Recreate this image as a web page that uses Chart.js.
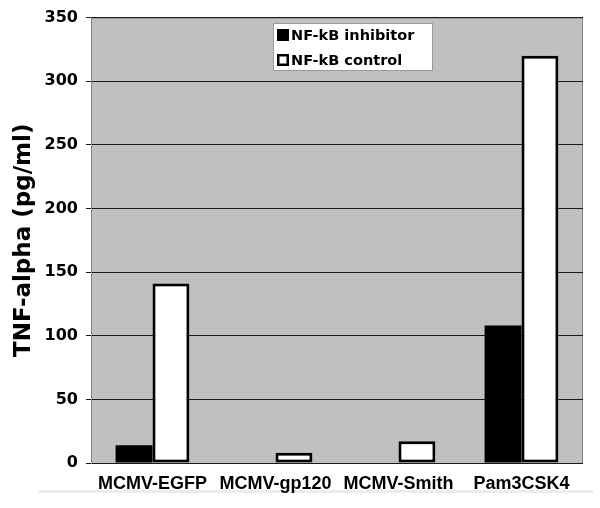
<!DOCTYPE html>
<html>
<head>
<meta charset="utf-8">
<script src="https://cdn.jsdelivr.net/npm/chart.js@4"></script>
<style>
  html, body { margin: 0; padding: 0; background: #ffffff; }
  #wrap { width: 600px; height: 508px; position: relative; }
</style>
</head>
<body>
<div id="wrap"><canvas id="c" width="600" height="508"></canvas></div>
<script>
const categories = ["MCMV-EGFP", "MCMV-gp120", "MCMV-Smith", "Pam3CSK4"];
const inhibitorValues = [14, 0, 0, 108];
const controlValues = [141, 8, 17, 320];
const seriesLabels = ["NF-kB inhibitor", "NF-kB control"];
const yTitle = "TNF-alpha (pg/ml)";
const yMin = 0, yMax = 350, yStep = 50;

const PLOT_BG = "#c0c0c0";

const decorPlugin = {
  id: "decor",
  beforeDraw(chart) {
    const { ctx, chartArea: a } = chart;
    ctx.save();
    ctx.fillStyle = PLOT_BG;
    ctx.fillRect(a.left, a.top, a.right - a.left, a.bottom - a.top);
    ctx.strokeStyle = "#808080";
    ctx.lineWidth = 1;
    ctx.strokeRect(a.left + 0.5, a.top + 0.5, a.right - a.left - 1, a.bottom - a.top);
    // faint band under the category labels
    ctx.fillStyle = "#ececec";
    ctx.fillRect(38, 490, 555, 3);
    ctx.restore();
  },
  afterDraw(chart) {
    const { ctx } = chart;
    const ds = chart.data.datasets;
    const bx = 273, by = 23, bw = 160, bh = 48;
    ctx.save();
    ctx.fillStyle = "#ffffff";
    ctx.fillRect(bx, by, bw, bh);
    ctx.strokeStyle = "#9a9a9a";
    ctx.lineWidth = 1;
    ctx.strokeRect(bx + 0.5, by + 0.5, bw - 1, bh - 1);
    ctx.font = "bold 14.5px 'DejaVu Sans'";
    ctx.textBaseline = "middle";
    ctx.textAlign = "left";
    const rows = [35, 60];
    ds.forEach((d, i) => {
      const y = rows[i];
      ctx.fillStyle = d.backgroundColor;
      ctx.fillRect(277, y - 6, 12, 12);
      if (d.borderWidth) {
        ctx.strokeStyle = d.borderColor;
        ctx.lineWidth = 2.5;
        ctx.strokeRect(278.25, y - 4.75, 9.5, 9.5);
      }
      ctx.fillStyle = "#000000";
      ctx.fillText(d.label, 291, y + 1);
    });
    ctx.restore();
  }
};

new Chart(document.getElementById("c"), {
  type: "bar",
  data: {
    labels: categories,
    datasets: [
      {
        label: seriesLabels[0],
        data: inhibitorValues,
        backgroundColor: "#000000",
        borderWidth: 0,
        barPercentage: 1.0,
        categoryPercentage: 0.6
      },
      {
        label: seriesLabels[1],
        data: controlValues,
        backgroundColor: "#ffffff",
        borderColor: "#000000",
        borderWidth: 3,
        borderSkipped: false,
        barPercentage: 1.0,
        categoryPercentage: 0.6
      }
    ]
  },
  options: {
    responsive: false,
    animation: false,
    devicePixelRatio: 1,
    layout: { padding: { top: 17, right: 17, left: 0, bottom: 0 } },
    plugins: {
      legend: { display: false },
      tooltip: { enabled: false }
    },
    scales: {
      x: {
        grid: { display: false, drawTicks: false },
        border: { display: false },
        ticks: {
          color: "#000000",
          padding: 10,
          maxRotation: 0,
          autoSkip: false,
          font: { family: "'Liberation Sans', Arial, sans-serif", weight: "bold", size: 18 }
        },
        afterFit(axis) { axis.height = 45; }
      },
      y: {
        min: yMin,
        max: yMax,
        grid: { color: "#1a1a1a", lineWidth: 1, tickLength: 5, drawTicks: true },
        border: { display: true, color: "#808080", width: 1 },
        ticks: {
          stepSize: yStep,
          color: "#000000",
          padding: 8,
          font: { family: "'DejaVu Sans'", weight: "bold", size: 16 }
        },
        title: {
          display: true,
          text: yTitle,
          color: "#000000",
          padding: { top: 10, bottom: 0 },
          font: { family: "'DejaVu Sans'", weight: "bold", size: 23 }
        },
        afterFit(axis) { axis.width = 91; }
      }
    }
  },
  plugins: [decorPlugin]
});
</script>
</body>
</html>
